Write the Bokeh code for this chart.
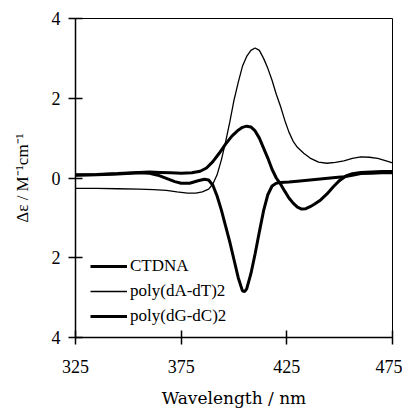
from bokeh.plotting import figure
from bokeh.models import Range1d, FixedTicker, Legend, LegendItem
from bokeh.embed import file_html
from bokeh.resources import INLINE

# --- data ---
wl_ct = [325, 335, 345, 355, 360, 365, 370, 375, 380, 384, 387, 390, 393, 396, 399, 402, 404, 406,
         408, 410, 412, 414, 416, 418, 420, 422, 424, 426, 428, 430, 432, 434, 436, 438, 441, 444,
         447, 450, 453, 456, 460, 465, 470, 475]
ctdna = [0.08, 0.09, 0.11, 0.14, 0.15, 0.14, 0.13, 0.12, 0.13, 0.17, 0.25, 0.41, 0.62, 0.85, 1.05,
         1.2, 1.27, 1.30, 1.28, 1.18, 1.0, 0.75, 0.5, 0.22, 0.0, -0.15, -0.33, -0.5, -0.63, -0.73,
         -0.78, -0.77, -0.72, -0.66, -0.55, -0.4, -0.22, -0.06, 0.05, 0.11, 0.14, 0.15, 0.16, 0.16]

wl_at = [325, 335, 345, 355, 362, 368, 373, 378, 382, 385, 388, 390, 392, 394, 396, 398, 400, 402,
         404, 406, 408, 410, 412, 414, 416, 418, 420, 422, 424, 426, 428, 430, 433, 436, 440, 444,
         448, 452, 456, 460, 464, 468, 472, 475]
polyAT = [-0.26, -0.26, -0.27, -0.28, -0.29, -0.31, -0.35, -0.38, -0.38, -0.35, -0.28, -0.15, 0.08,
          0.45, 0.9, 1.4, 1.95, 2.4, 2.8, 3.05, 3.2, 3.26, 3.2, 3.0, 2.75, 2.45, 2.1, 1.8, 1.45,
          1.15, 0.92, 0.77, 0.62, 0.5, 0.4, 0.37, 0.39, 0.43, 0.49, 0.53, 0.52, 0.49, 0.43, 0.38]

wl_gc = [325, 335, 345, 355, 360, 364, 368, 372, 375, 379, 383, 386, 388, 390, 392, 394, 396, 398,
         400, 402, 404, 405, 406, 408, 410, 412, 414, 416, 418, 420, 422, 426, 430, 436, 442, 448,
         452, 456, 460, 465, 470, 475]
polyGC = [0.07, 0.08, 0.10, 0.13, 0.12, 0.07, -0.01, -0.09, -0.13, -0.13, -0.07, -0.03, -0.05,
          -0.18, -0.45, -0.8, -1.2, -1.6, -2.05, -2.5, -2.83, -2.85, -2.78, -2.4, -1.9, -1.35,
          -0.82, -0.42, -0.2, -0.13, -0.11, -0.1, -0.08, -0.05, -0.02, 0.01, 0.03, 0.07, 0.11,
          0.12, 0.13, 0.13]

x_ticks = [325, 375, 425, 475]
y_ticks = [-4, -2, 0, 2, 4]
y_tick_labels = {-4: "4", -2: "2", 0: "0", 2: "2", 4: "4"}

FONT = "Liberation Serif"

p = figure(frame_width=317, frame_height=319, output_backend="svg", toolbar_location=None,
           x_range=Range1d(325, 475), y_range=Range1d(-4, 4),
           min_border_left=75, min_border_top=18, min_border_right=10, min_border_bottom=72)
p.grid.visible = False
p.outline_line_color = "black"
p.outline_line_width = 1
p.background_fill_color = "white"
p.border_fill_color = "white"

for ax in (p.xaxis[0], p.yaxis[0]):
    ax.axis_line_width = 1.5
    ax.major_tick_line_width = 1.5
    ax.major_tick_in = 7
    ax.major_tick_out = 7
    ax.minor_tick_line_color = None
    ax.major_label_text_font = FONT
    ax.major_label_text_font_size = "18px"
    ax.major_label_text_color = "black"
    ax.axis_label_text_font_style = "normal"
    ax.axis_label_text_color = "black"

p.xaxis.axis_label_text_font = "DejaVu Serif"
p.xaxis.axis_label_text_font_size = "17px"
p.yaxis.axis_label_text_font = FONT
p.yaxis.axis_label_text_font_size = "17px"

p.xaxis.ticker = FixedTicker(ticks=x_ticks)
p.yaxis.ticker = FixedTicker(ticks=y_ticks)
p.yaxis.major_label_overrides = y_tick_labels
p.xaxis.axis_label = "Wavelength / nm"
p.yaxis.axis_label = "Δε / M⁻¹cm⁻¹"
p.xaxis.major_label_standoff = 15
p.xaxis.axis_label_standoff = 12
p.yaxis.major_label_standoff = 8
p.yaxis.axis_label_standoff = 17

r1 = p.line(wl_ct, ctdna, line_color="black", line_width=3)
r2 = p.line(wl_at, polyAT, line_color="black", line_width=1.3)
r3 = p.line(wl_gc, polyGC, line_color="black", line_width=3)

legend = Legend(items=[LegendItem(label="CTDNA", renderers=[r1]),
                       LegendItem(label="poly(dA-dT)2", renderers=[r2]),
                       LegendItem(label="poly(dG-dC)2", renderers=[r3])],
                location=(15, 11), padding=0, margin=0, spacing=5,
                glyph_width=37, glyph_height=20, label_height=20, label_standoff=3,
                border_line_color=None, background_fill_alpha=0,
                label_text_font=FONT, label_text_font_size="17px", label_text_color="black")
p.add_layout(legend, "center")

open("out.html", "w").write(file_html(p, INLINE))
